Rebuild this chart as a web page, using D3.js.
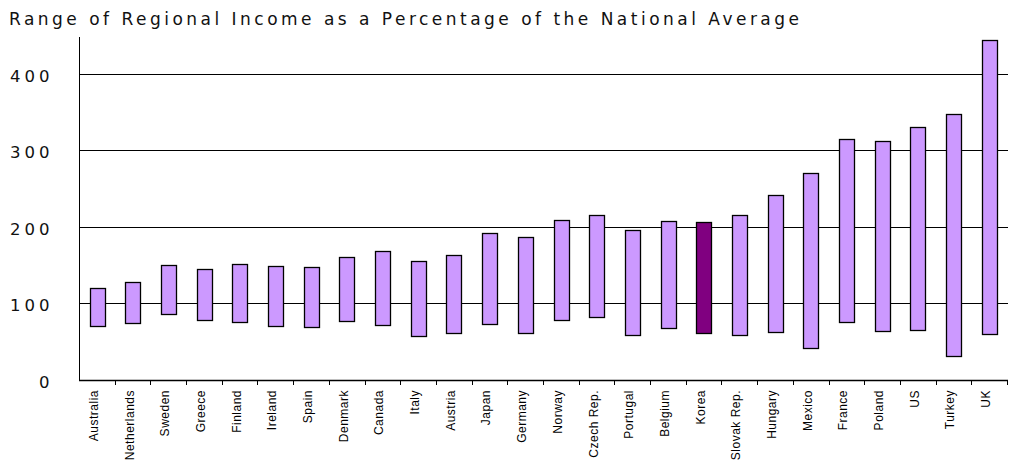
<!DOCTYPE html>
<html>
<head>
<meta charset="utf-8">
<script src="https://cdn.jsdelivr.net/npm/d3@7"></script>
<style>
  html, body { margin: 0; padding: 0; background: #fff; }
  svg { display: block; }
</style>
</head>
<body>
<svg id="chart" width="1010" height="465"></svg>
<script>
const titleText = "Range of Regional Income as a Percentage of the National Average";
const categories = ["Australia","Netherlands","Sweden","Greece","Finland","Ireland","Spain","Denmark","Canada","Italy","Austria","Japan","Germany","Norway","Czech Rep.","Portugal","Belgium","Korea","Slovak Rep.","Hungary","Mexico","France","Poland","US","Turkey","UK"];
const lowValues  = [71, 75, 86, 78, 76, 70, 69, 77, 72, 58, 61, 73, 61, 78, 82, 59, 68, 62, 59, 63, 42, 76, 64, 65, 32, 60];
const highValues = [120, 128, 150, 145, 152, 149, 148, 160, 168, 156, 163, 192, 187, 209, 215, 196, 208, 206, 216, 241, 270, 315, 312, 331, 347, 444];
const highlighted = ["Korea"];
const yTicks = [0, 100, 200, 300, 400];

(function () {
const svg = d3.select("#chart");
const pLeft = 79, pRight = 1007, pTop = 37, pBottom = 380;

const x = d3.scaleBand().domain(categories).range([pLeft, pRight]).paddingInner(0).paddingOuter(0);
const y = d3.scaleLinear().domain([0, 448]).range([pBottom, pTop]);

// title
svg.append("text")
  .attr("x", 9).attr("y", 25)
  .attr("font-family", "DejaVu Sans, sans-serif")
  .attr("font-size", 17)
  .attr("textLength", 790)
  .attr("lengthAdjust", "spacing")
  .attr("fill", "#111")
  .text(titleText);

// gridlines
svg.append("g").selectAll("line")
  .data(yTicks.filter(d => d > 0))
  .join("line")
  .attr("x1", pLeft).attr("x2", pRight + 1)
  .attr("y1", d => Math.round(y(d)) + 0.5).attr("y2", d => Math.round(y(d)) + 0.5)
  .attr("stroke", "#000").attr("stroke-width", 1);

// bars
const data = categories.map((c, i) => ({ c, lo: lowValues[i], hi: highValues[i] }));
const bw = x.bandwidth() * 0.41;
svg.append("g").selectAll("rect")
  .data(data)
  .join("rect")
  .attr("x", d => Math.round(x(d.c) + x.bandwidth() / 2 - bw / 2) + 0.5)
  .attr("width", Math.round(bw))
  .attr("y", d => Math.round(y(d.hi)) + 0.5)
  .attr("height", d => Math.round(y(d.lo)) - Math.round(y(d.hi)))
  .attr("fill", d => highlighted.includes(d.c) ? "#800080" : "#CC99FF")
  .attr("stroke", "#000").attr("stroke-width", 1.3);

// y axis
const yAxis = d3.axisLeft(y).tickValues(yTicks).tickSize(0).tickPadding(0);
const gy = svg.append("g").attr("transform", `translate(${pLeft + 0.5},0)`).call(yAxis);
gy.select(".domain").attr("stroke", "#000").attr("d", `M0,${pTop}V${pBottom + 0.5}`);
gy.selectAll("text")
  .attr("x", -26)
  .attr("dy", "0.45em")
  .attr("font-family", "DejaVu Sans, sans-serif")
  .attr("font-size", 16.5)
  .attr("letter-spacing", 4)
  .attr("fill", "#111");

// x axis baseline and ticks at band boundaries
const gx = svg.append("g");
gx.append("line")
  .attr("x1", pLeft).attr("x2", pRight + 1)
  .attr("y1", pBottom + 0.5).attr("y2", pBottom + 0.5)
  .attr("stroke", "#000").attr("stroke-width", 1.5);
const bounds = categories.map(c => x(c)).slice(1).concat([pRight]);
gx.selectAll("line.tick")
  .data(bounds)
  .join("line")
  .attr("class", "tick")
  .attr("x1", d => Math.round(d) + 0.5).attr("x2", d => Math.round(d) + 0.5)
  .attr("y1", pBottom).attr("y2", pBottom + 5)
  .attr("stroke", "#000");

// x labels
gx.selectAll("text")
  .data(categories)
  .join("text")
  .attr("transform", d => `translate(${x(d) + x.bandwidth() / 2 + 1},390) rotate(-90)`)
  .attr("text-anchor", "end")
  .attr("font-family", "Liberation Sans, Arial, sans-serif")
  .attr("font-size", 12)
  .attr("letter-spacing", 0.5)
  .attr("fill", "#000")
  .text(d => d);
})();
</script>
</body>
</html>
